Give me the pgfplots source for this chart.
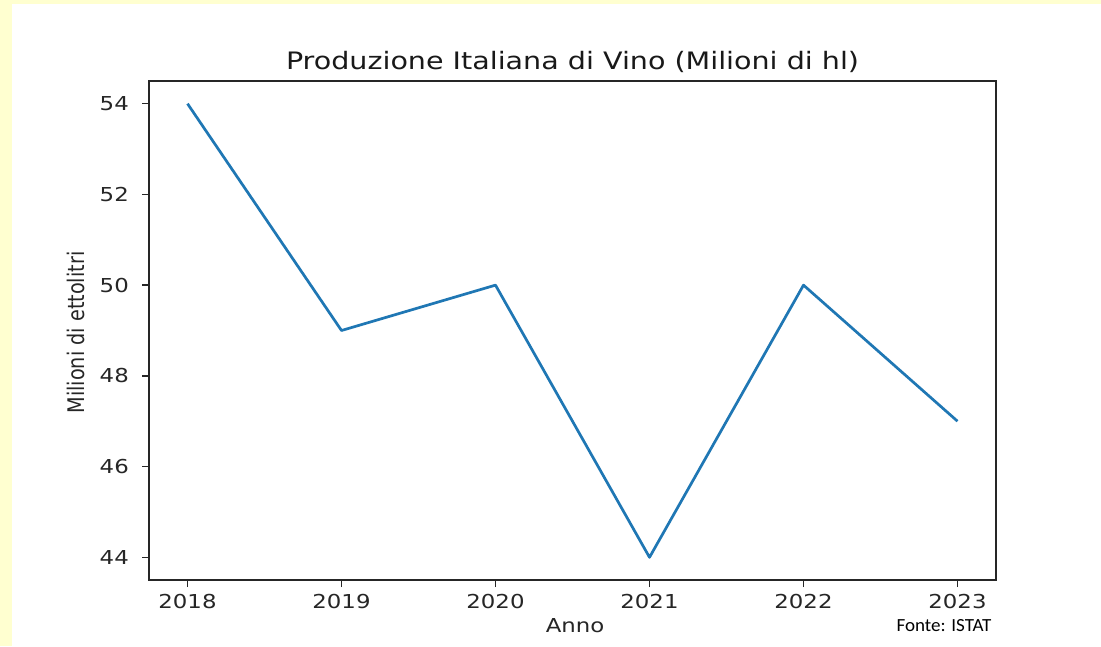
\documentclass[border=0pt]{standalone}
\usepackage{fontspec}
\usepackage{pgfplots}
\pgfplotsset{compat=1.18}
\setmainfont{DejaVu Sans}
\newfontfamily\dvfont[FakeStretch=1.19]{DejaVu Sans}
\newfontfamily\dvylab[FakeStretch=0.84]{DejaVu Sans}
\newfontfamily\calfont[FakeStretch=1.03]{Carlito}
\definecolor{bgyellow}{RGB}{255,255,208}
\definecolor{mplblue}{RGB}{31,119,180}
\begin{document}
\begin{tikzpicture}[x=1pt,y=1pt]
\fill[bgyellow] (0,0) rectangle (1101,646);
\fill[white] (12,0) rectangle (1101,642);
\useasboundingbox (0,0) rectangle (1101,646);
\begin{axis}[
  at={(149pt,66pt)}, anchor=south west,
  scale only axis, width=847pt, height=499pt,
  xmin=2017.75, xmax=2023.25, ymin=43.5, ymax=54.5,
  xtick={2018,2019,2020,2021,2022,2023}, ytick={44,46,48,50,52,54},
  tick align=outside, tick pos=left,
  major tick length=7pt,
  axis line style={black!85, line width=1.6pt},
  tick style={black!85, line width=1.4pt},
  /pgf/number format/assume math mode=true,
  /pgf/number format/1000 sep={},
  ticklabel style={font=\dvfont\fontsize{19.2}{23}\selectfont, text=black!85, inner sep=0pt},
  xticklabel style={anchor=north, yshift=-7pt},
  yticklabel style={anchor=east, xshift=-13pt},
  title={Produzione Italiana di Vino (Milioni di hl)},
  title style={font=\dvfont\fontsize{24}{28}\selectfont, text=black!90, at={(axis description cs:0.5,1.024)}, anchor=base, inner sep=0pt, yshift=-6pt},
  xlabel={Anno},
  xlabel style={font=\dvfont\fontsize{19.2}{23}\selectfont, text=black!85, at={(axis description cs:0.503,-0.1062)}, anchor=base, inner sep=0pt},
  ylabel={Milioni di ettolitri},
  ylabel style={font=\dvylab\fontsize{22.9}{26}\selectfont, text=black!85, at={(axis description cs:-0.0756,0.496)}, anchor=base, inner sep=0pt},
]
\addplot[mplblue, line width=2.7pt, line join=round, line cap=butt] coordinates {
(2018,54) (2019,49) (2020,50) (2021,44) (2022,50) (2023,47)
};
\end{axis}
\node[anchor=base, inner sep=0pt, font=\calfont\fontsize{18.5}{22}\selectfont] at (944,14.3) {Fonte: ISTAT};
\end{tikzpicture}
\end{document}
